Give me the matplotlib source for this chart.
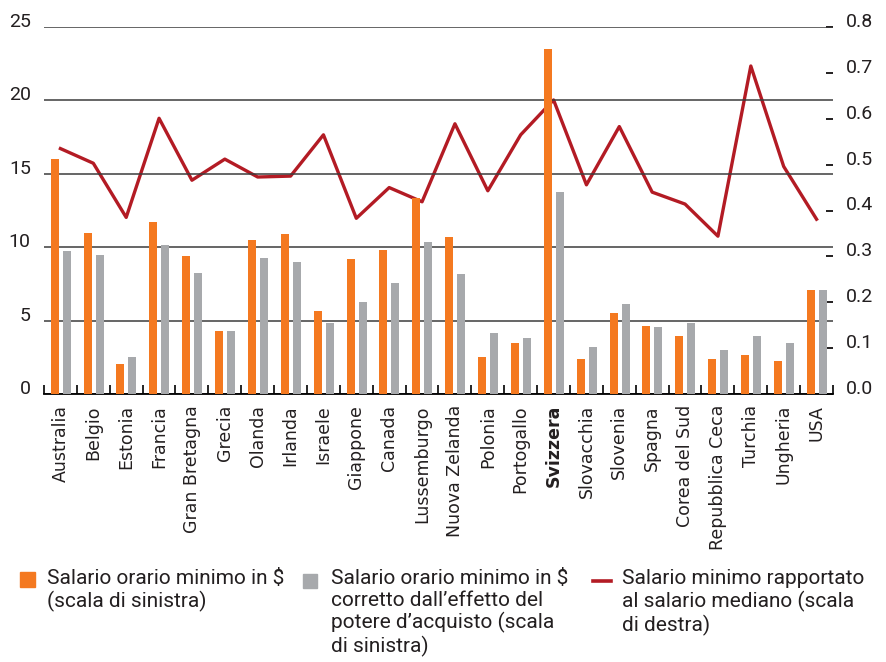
import numpy as np
import matplotlib.pyplot as plt
from matplotlib.patches import Rectangle
from matplotlib.lines import Line2D

# dati
paesi = ['Australia', 'Belgio', 'Estonia', 'Francia', 'Gran Bretagna', 'Grecia',
         'Olanda', 'Irlanda', 'Israele', 'Giappone', 'Canada', 'Lussemburgo',
         'Nuova Zelanda', 'Polonia', 'Portogallo', 'Svizzera', 'Slovacchia',
         'Slovenia', 'Spagna', 'Corea del Sud', 'Repubblica Ceca', 'Turchia',
         'Ungheria', 'USA']
salario = [16.0, 10.97, 2.04, 11.72, 9.4, 4.29, 10.49, 10.9, 5.65, 9.2, 9.81, 13.35,
           10.7, 2.52, 3.47, 23.5, 2.38, 5.52, 4.63, 3.95, 2.38, 2.66, 2.25, 7.08]
salario_ppa = [9.74, 9.47, 2.52, 10.15, 8.24, 4.29, 9.26, 8.99, 4.84, 6.27, 7.56, 10.35,
               8.17, 4.16, 3.81, 13.76, 3.2, 6.13, 4.56, 4.84, 3.0, 3.95, 3.47, 7.08]
rapporto_mediano = [0.535, 0.503, 0.385, 0.601, 0.466, 0.512, 0.473, 0.475, 0.565,
                    0.383, 0.45, 0.419, 0.589, 0.443, 0.565, 0.641, 0.456, 0.583,
                    0.44, 0.414, 0.344, 0.715, 0.496, 0.381]
tick_sinistra = [0, 5, 10, 15, 20, 25]
tick_destra = [0.0, 0.1, 0.2, 0.3, 0.4, 0.5, 0.6, 0.7, 0.8]

arancio = '#f47920'
grigio = '#a7a9ac'
rosso = '#b31b24'
testo = '#231f20'

fig = plt.figure(figsize=(8.87, 6.62), dpi=100)
ax = fig.add_axes([44/887, 1 - 394/662, 789/887, 367/662])
ax2 = ax.twinx()
ax.set_zorder(ax2.get_zorder() + 1)
ax.patch.set_visible(False)

x = np.arange(len(paesi))

# linea (scala di destra), dietro alle barre
ax2.plot(x, rapporto_mediano, color=rosso, lw=2.4)
ax2.set_ylim(0, 0.8)

# barre (scala di sinistra)
ax.bar(x - 0.175, salario, 0.243, color=arancio, zorder=3)
ax.bar(x + 0.19, salario_ppa, 0.243, color=grigio, zorder=3)
ax.set_xlim(-0.5, len(paesi) - 0.5)
ax.set_ylim(0, 25)

ax.set_yticks(tick_sinistra)
ax.yaxis.grid(True, color='#3c3c3c', lw=1.1)
ax.set_axisbelow(True)
ax.tick_params(axis='y', length=0, pad=9.5, labelsize=14, labelcolor=testo)
for t in ax.get_yticklabels():
    t.set_family('Roboto')
    t.set_verticalalignment('baseline')

ax2.set_yticks(tick_destra)
ax2.set_yticklabels(['%.1f' % v for v in tick_destra])
ax2.tick_params(axis='y', direction='in', length=5, width=1.4, pad=9.5,
                labelsize=14, labelcolor=testo, color=testo)
for t in ax2.get_yticklabels():
    t.set_family('Roboto')
    t.set_verticalalignment('baseline')

ax.set_xticks(x)
ax.set_xticklabels(paesi, rotation=90, fontsize=12.5, color=testo)
ax.get_xticklabels()[paesi.index('Svizzera')].set_fontweight('bold')
ax.tick_params(axis='x', which='major', length=0, pad=8)
ax.set_xticks(np.arange(-0.5, len(paesi), 1), minor=True)
ax.tick_params(axis='x', which='minor', direction='in', length=6.5, width=1.2)

for a in (ax, ax2):
    for s in ('top', 'left', 'right'):
        a.spines[s].set_visible(False)
ax2.spines['bottom'].set_visible(False)
ax.spines['bottom'].set_linewidth(1.3)

# legenda
fig.add_artist(Rectangle((20/887, 1 - 587/662), 15/887, 15/662,
                         transform=fig.transFigure, color=arancio))
fig.add_artist(Rectangle((303/887, 1 - 588/662), 14/887, 14/662,
                         transform=fig.transFigure, color=grigio))
fig.add_artist(Line2D([593/887, 611/887], [1 - 581/662, 1 - 581/662],
                      transform=fig.transFigure, color=rosso, lw=2.6))
voci = [(47, 'Salario orario minimo in $\n(scala di sinistra)'),
        (331, 'Salario orario minimo in $\ncorretto dall\u2019effetto del\npotere d\u2019acquisto (scala\ndi sinistra)'),
        (622, 'Salario minimo rapportato\nal salario mediano (scala\ndi destra)')]
for px, s in voci:
    fig.text(px/887, 1 - 569/662, s, va='top', ha='left', fontsize=15,
             family='Roboto', color=testo, linespacing=1.17)

fig.savefig('out.png', dpi=100)
